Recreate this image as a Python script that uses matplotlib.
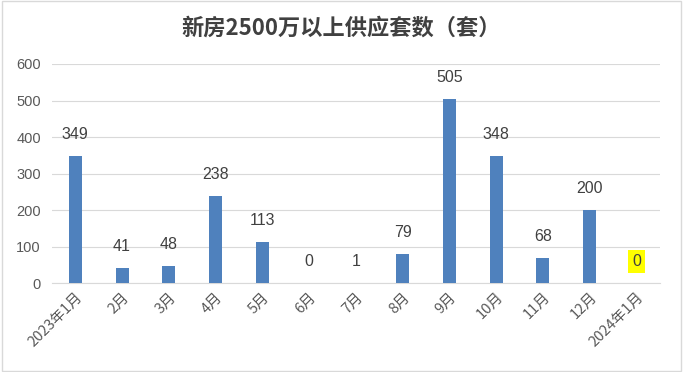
import matplotlib.pyplot as plt
import numpy as np

plt.rcParams['font.family'] = ['Noto Sans CJK SC', 'DejaVu Sans']

months = ["2023年1月", "2月", "3月", "4月", "5月", "6月", "7月", "8月",
          "9月", "10月", "11月", "12月", "2024年1月"]
supply = [349, 41, 48, 238, 113, 0, 1, 79, 505, 348, 68, 200, 0]

fig = plt.figure(figsize=(6.83, 3.72), dpi=100)
ax = fig.add_axes([0.076, 0.239, 0.890, 0.589])

x = np.arange(len(months))
ax.bar(x, supply, width=0.28, color="#4f81bd", zorder=3)

for i, v in enumerate(supply):
    box = None
    if i == len(supply) - 1:
        box = dict(boxstyle="square,pad=0.25", fc="#ffff00", ec="none")
    ax.annotate(str(v), (i, v), xytext=(0, 10), textcoords="offset points",
                ha="center", va="bottom", fontsize=11.5, color="#404040",
                family="Liberation Sans", bbox=box)

ax.set_xlim(-0.5, len(months) - 0.5)
ax.set_ylim(0, 600)
ax.set_yticks(range(0, 601, 100))
ax.set_xticks(x)
ax.set_xticklabels(months, rotation=45, ha="right", rotation_mode="anchor",
                   fontsize=10.5, color="#595959")
for lab in ax.get_yticklabels():
    lab.set_family("Liberation Sans")
ax.tick_params(axis="y", labelsize=10.5, colors="#595959", length=0, pad=8)
ax.tick_params(axis="x", length=0, pad=5)
ax.grid(axis="y", color="#d9d9d9", linewidth=0.8, zorder=0)
for s in ["top", "right", "left"]:
    ax.spines[s].set_visible(False)
ax.spines["bottom"].set_color("#d9d9d9")

fig.text(0.5, 0.925, "新房2500万以上供应套数（套）", ha="center", va="center",
         fontsize=16, fontweight="bold", color="#404040")

border = plt.Rectangle((0.003, 0.003), 0.994, 0.994, transform=fig.transFigure,
                       fill=False, edgecolor="#d9d9d9", linewidth=1)
fig.patches.append(border)

fig.savefig("out.png", dpi=100)
